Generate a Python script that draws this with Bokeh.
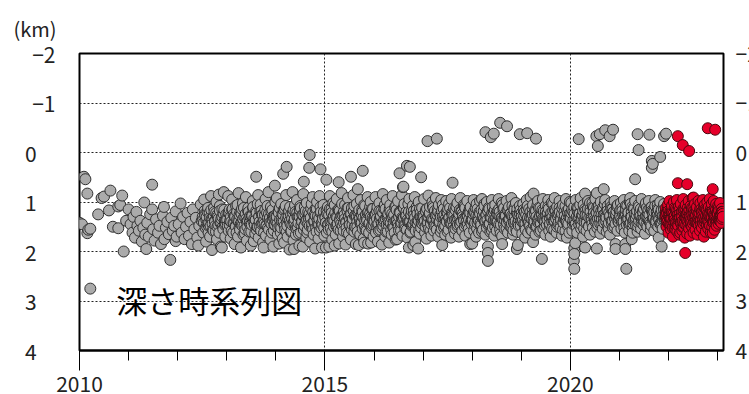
from bokeh.plotting import figure
from bokeh.layouts import column
from bokeh.models import Range1d, FixedTicker, Label, LinearAxis
from bokeh.embed import file_html
from bokeh.resources import INLINE

# Hypocentre depth (km) against time (decimal year); each list holds
# (offset within the year, depth) pairs.
ev_2010 = [(0.00, 1.42), (0.05, 1.45), (0.09, 0.49), (0.12, 0.54), (0.16, 0.83), (0.16, 1.63),
           (0.18, 1.56), (0.22, 1.54), (0.22, 2.75), (0.38, 1.25), (0.45, 0.92), (0.50, 0.89),
           (0.60, 1.17), (0.63, 0.77), (0.68, 1.50), (0.79, 1.09), (0.79, 1.53), (0.83, 1.06),
           (0.87, 0.87), (0.90, 2.00), (0.95, 1.38)]
ev_2011 = [(0.00, 1.15), (0.04, 1.45), (0.08, 1.62), (0.10, 1.30), (0.13, 1.72), (0.16, 1.20),
           (0.18, 1.48), (0.21, 1.58), (0.24, 1.38), (0.27, 1.80), (0.30, 1.52), (0.32, 1.01),
           (0.34, 1.66), (0.36, 1.95), (0.38, 1.42), (0.41, 1.70), (0.44, 1.25), (0.48, 1.15),
           (0.48, 0.65), (0.50, 1.55), (0.53, 1.78), (0.56, 1.35), (0.60, 1.62), (0.63, 1.48),
           (0.66, 1.85), (0.70, 1.28), (0.72, 1.10), (0.73, 1.75), (0.76, 1.52), (0.79, 1.40),
           (0.82, 1.65), (0.85, 2.17), (0.87, 1.32), (0.90, 1.58), (0.93, 1.48), (0.96, 1.19),
           (0.96, 1.79), (0.98, 1.70)]
ev_2012 = [(0.02, 1.45), (0.06, 1.03), (0.08, 1.62), (0.11, 1.30), (0.14, 1.75), (0.17, 1.50),
           (0.20, 1.22), (0.23, 1.68), (0.26, 1.40), (0.29, 1.85), (0.31, 1.15), (0.34, 1.55),
           (0.37, 1.32), (0.40, 1.72), (0.42, 1.88), (0.44, 1.48), (0.47, 1.05), (0.49, 1.38),
           (0.52, 1.62), (0.54, 0.95), (0.56, 1.28), (0.58, 1.80), (0.60, 1.50), (0.62, 1.12),
           (0.64, 1.42), (0.66, 1.70), (0.68, 0.88), (0.70, 1.97), (0.71, 1.35), (0.73, 1.58),
           (0.75, 1.20), (0.77, 1.48), (0.79, 1.00), (0.80, 1.75), (0.82, 1.30), (0.84, 0.85),
           (0.85, 1.62), (0.87, 1.42), (0.88, 1.90), (0.90, 1.92), (0.91, 1.15), (0.93, 1.55),
           (0.94, 0.80), (0.96, 1.38), (0.97, 1.70), (0.99, 1.25),
           (0.52, 1.36), (0.55, 1.18), (0.57, 1.52), (0.59, 1.30), (0.61, 1.44), (0.63, 1.62),
           (0.65, 1.22), (0.67, 1.48), (0.69, 1.34), (0.72, 1.56), (0.74, 1.12), (0.76, 1.40),
           (0.78, 1.60), (0.81, 1.26), (0.83, 1.46), (0.86, 1.08), (0.89, 1.34), (0.92, 1.50),
           (0.95, 1.16), (0.98, 1.44),
           (0.51, 1.30), (0.535, 1.42), (0.56, 1.24), (0.585, 1.36), (0.61, 1.20), (0.635, 1.48),
           (0.66, 1.32), (0.685, 1.16), (0.71, 1.44), (0.735, 1.28), (0.76, 1.38), (0.785, 1.22),
           (0.81, 1.50), (0.835, 1.34), (0.86, 1.18), (0.885, 1.42), (0.91, 1.30), (0.935, 1.24),
           (0.96, 1.46), (0.985, 1.36)]
ev_2013 = [(0.01, 1.32), (0.03, 0.88), (0.04, 1.58), (0.06, 1.15), (0.08, 1.74), (0.09, 1.40),
           (0.11, 0.95), (0.13, 1.62), (0.14, 1.25), (0.16, 1.85), (0.18, 1.48), (0.19, 1.08),
           (0.21, 1.36), (0.23, 1.70), (0.24, 0.82), (0.26, 1.52), (0.28, 1.20), (0.29, 1.92),
           (0.31, 1.44), (0.33, 1.02), (0.34, 1.66), (0.36, 1.30), (0.38, 1.55), (0.39, 0.90),
           (0.41, 1.78), (0.43, 1.38), (0.44, 1.12), (0.46, 1.60), (0.48, 1.28), (0.49, 1.88),
           (0.51, 1.46), (0.53, 0.98), (0.55, 1.79), (0.56, 1.34), (0.58, 1.64), (0.60, 0.49),
           (0.60, 1.18), (0.62, 1.50), (0.64, 0.86), (0.65, 1.72), (0.67, 1.40), (0.69, 1.05),
           (0.70, 1.58), (0.72, 1.26), (0.74, 1.82), (0.75, 1.92), (0.77, 1.44), (0.79, 0.94),
           (0.80, 1.68), (0.82, 1.22), (0.84, 1.52), (0.85, 0.80), (0.87, 1.36), (0.89, 1.76),
           (0.90, 1.10), (0.92, 1.62), (0.94, 1.30), (0.95, 1.90), (0.97, 1.46), (0.98, 0.67),
           (0.99, 1.00),
           (0.02, 1.48), (0.05, 1.22), (0.07, 1.38), (0.10, 1.58), (0.12, 1.14), (0.15, 1.44),
           (0.17, 1.30), (0.20, 1.62), (0.22, 1.06), (0.25, 1.40), (0.27, 1.56), (0.30, 1.24),
           (0.32, 1.48), (0.35, 1.12), (0.37, 1.64), (0.40, 1.34), (0.42, 1.50), (0.45, 1.20),
           (0.47, 1.42), (0.50, 1.60), (0.52, 1.28), (0.54, 1.10), (0.57, 1.46), (0.59, 1.36),
           (0.61, 1.56), (0.63, 1.04), (0.66, 1.30), (0.68, 1.50), (0.71, 1.18), (0.73, 1.42),
           (0.76, 1.62), (0.78, 1.26), (0.81, 1.46), (0.83, 1.08), (0.86, 1.56), (0.88, 1.32),
           (0.91, 1.44), (0.93, 1.16), (0.96, 1.58), (0.98, 1.28)]
ev_2014 = [(0.01, 1.40), (0.02, 0.92), (0.04, 1.66), (0.06, 1.22), (0.07, 1.84), (0.09, 1.50),
           (0.11, 1.04), (0.12, 1.35), (0.14, 1.74), (0.15, 0.43), (0.16, 1.16), (0.17, 1.82),
           (0.19, 1.56), (0.21, 0.86), (0.22, 0.29), (0.23, 1.42), (0.24, 1.70), (0.26, 1.28),
           (0.28, 1.96), (0.29, 1.10), (0.31, 1.60), (0.33, 1.34), (0.34, 0.80), (0.36, 1.78),
           (0.37, 1.95), (0.38, 1.46), (0.40, 1.20), (0.41, 1.66), (0.43, 0.96), (0.45, 1.52),
           (0.46, 1.30), (0.48, 1.88), (0.50, 1.08), (0.51, 1.62), (0.53, 1.38), (0.55, 1.90),
           (0.56, 0.84), (0.57, 0.59), (0.58, 1.48), (0.60, 1.24), (0.62, 1.72), (0.63, 1.02),
           (0.65, 1.56), (0.67, 1.32), (0.68, 0.31), (0.69, 0.05), (0.70, 1.80), (0.72, 1.14),
           (0.74, 1.44), (0.75, 0.90), (0.77, 1.66), (0.79, 1.26), (0.80, 1.94), (0.82, 1.52),
           (0.84, 1.00), (0.85, 1.36), (0.87, 1.74), (0.89, 0.88), (0.90, 1.58), (0.91, 0.34),
           (0.92, 1.20), (0.94, 1.92), (0.95, 1.46), (0.97, 1.06), (0.99, 1.68),
           (0.02, 1.30), (0.05, 1.52), (0.08, 1.12), (0.10, 1.62), (0.13, 1.40), (0.15, 1.26),
           (0.18, 1.48), (0.20, 1.08), (0.22, 1.60), (0.25, 1.34), (0.27, 1.18), (0.30, 1.44),
           (0.32, 1.58), (0.35, 1.22), (0.37, 1.40), (0.39, 1.06), (0.42, 1.54), (0.44, 1.30),
           (0.47, 1.64), (0.49, 1.16), (0.52, 1.46), (0.54, 1.26), (0.57, 1.56), (0.59, 1.10),
           (0.61, 1.38), (0.64, 1.62), (0.66, 1.20), (0.69, 1.48), (0.71, 1.32), (0.73, 1.04),
           (0.76, 1.56), (0.78, 1.40), (0.81, 1.14), (0.83, 1.60), (0.86, 1.28), (0.88, 1.46),
           (0.91, 1.10), (0.93, 1.52), (0.96, 1.34), (0.98, 1.20)]
ev_2015 = [(0.01, 1.30), (0.02, 1.92), (0.03, 0.55), (0.04, 1.62), (0.06, 1.10), (0.07, 1.45),
           (0.09, 1.90), (0.10, 0.88), (0.12, 1.54), (0.14, 1.22), (0.15, 1.76), (0.17, 1.02),
           (0.19, 1.38), (0.20, 1.88), (0.22, 1.66), (0.24, 0.94), (0.25, 1.48), (0.27, 1.16),
           (0.28, 0.60), (0.29, 1.84), (0.31, 1.34), (0.32, 1.58), (0.34, 0.82), (0.36, 1.26),
           (0.37, 1.70), (0.39, 1.42), (0.41, 1.06), (0.42, 1.86), (0.44, 1.52), (0.46, 1.18),
           (0.47, 0.92), (0.49, 1.64), (0.51, 1.36), (0.53, 0.49), (0.53, 1.76), (0.55, 1.12),
           (0.56, 1.46), (0.58, 0.86), (0.60, 1.60), (0.61, 1.28), (0.63, 1.85), (0.65, 1.04),
           (0.66, 1.50), (0.67, 0.74), (0.69, 1.87), (0.70, 1.32), (0.72, 1.66), (0.73, 0.96),
           (0.75, 1.42), (0.77, 0.37), (0.77, 1.20), (0.79, 1.74), (0.80, 1.82), (0.82, 1.08),
           (0.83, 1.56), (0.85, 1.34), (0.87, 0.90), (0.88, 1.84), (0.90, 1.62), (0.92, 1.24),
           (0.93, 1.00), (0.94, 1.82), (0.96, 1.48), (0.98, 1.14), (0.99, 1.70),
           (0.02, 1.42), (0.05, 1.24), (0.08, 1.56), (0.10, 1.14), (0.13, 1.38), (0.15, 1.60),
           (0.18, 1.28), (0.20, 1.06), (0.23, 1.48), (0.25, 1.32), (0.28, 1.56), (0.30, 1.18),
           (0.33, 1.44), (0.35, 1.04), (0.38, 1.58), (0.40, 1.26), (0.43, 1.40), (0.45, 1.62),
           (0.48, 1.12), (0.50, 1.46), (0.52, 1.24), (0.55, 1.56), (0.57, 1.34), (0.60, 1.08),
           (0.62, 1.50), (0.65, 1.30), (0.67, 1.60), (0.70, 1.16), (0.72, 1.42), (0.75, 1.26),
           (0.77, 1.54), (0.80, 1.06), (0.82, 1.38), (0.85, 1.58), (0.87, 1.22), (0.90, 1.44),
           (0.92, 1.10), (0.95, 1.52), (0.97, 1.32), (0.99, 1.46)]
ev_2016 = [(0.01, 1.36), (0.03, 0.90), (0.04, 1.62), (0.06, 1.18), (0.08, 1.80), (0.09, 1.44),
           (0.11, 1.02), (0.13, 1.56), (0.14, 1.28), (0.16, 1.86), (0.18, 0.84), (0.19, 1.48),
           (0.21, 1.14), (0.23, 1.70), (0.24, 1.34), (0.26, 0.96), (0.28, 1.60), (0.29, 1.24),
           (0.31, 1.82), (0.33, 1.06), (0.34, 1.42), (0.36, 1.66), (0.38, 0.88), (0.39, 1.30),
           (0.41, 1.52), (0.43, 1.10), (0.44, 1.76), (0.46, 1.38), (0.47, 1.75), (0.49, 0.98),
           (0.51, 1.58), (0.52, 0.42), (0.53, 1.22), (0.55, 1.46), (0.57, 0.86), (0.58, 1.68),
           (0.59, 0.70), (0.60, 0.69), (0.61, 1.32), (0.62, 1.04), (0.64, 1.54), (0.66, 1.20),
           (0.67, 0.27), (0.68, 1.72), (0.70, 1.40), (0.71, 1.92), (0.72, 0.94), (0.73, 0.29),
           (0.74, 1.62), (0.76, 1.26), (0.77, 1.48), (0.79, 1.08), (0.80, 1.87), (0.81, 1.36),
           (0.83, 0.90), (0.84, 1.81), (0.85, 1.58), (0.87, 1.16), (0.89, 1.44), (0.90, 1.94),
           (0.91, 1.00), (0.93, 1.64), (0.94, 1.30), (0.96, 0.50), (0.96, 1.52), (0.98, 1.12),
           (0.02, 1.26), (0.05, 1.48), (0.07, 1.10), (0.10, 1.58), (0.12, 1.34), (0.15, 1.18),
           (0.17, 1.52), (0.20, 1.40), (0.22, 1.06), (0.25, 1.60), (0.27, 1.30), (0.30, 1.46),
           (0.32, 1.14), (0.35, 1.56), (0.37, 1.24), (0.40, 1.42), (0.42, 1.62), (0.45, 1.08),
           (0.47, 1.36), (0.50, 1.50), (0.52, 1.20), (0.55, 1.58), (0.57, 1.32), (0.60, 1.12),
           (0.62, 1.46), (0.65, 1.28), (0.67, 1.56), (0.70, 1.04), (0.72, 1.40), (0.75, 1.60),
           (0.77, 1.18), (0.80, 1.44), (0.82, 1.26), (0.85, 1.52), (0.87, 1.10), (0.90, 1.36),
           (0.92, 1.58), (0.95, 1.22), (0.97, 1.42), (0.99, 1.30)]
ev_2017 = [(0.01, 1.40), (0.02, 0.94), (0.04, 1.62), (0.06, 1.20), (0.07, 1.74), (0.09, -0.23),
           (0.09, 1.32), (0.11, 0.87), (0.12, 1.54), (0.14, 1.10), (0.16, 1.44), (0.17, 1.68),
           (0.19, 1.00), (0.21, 1.36), (0.22, 1.58), (0.24, 1.18), (0.26, 0.92), (0.27, 1.48),
           (0.28, -0.28), (0.29, 1.26), (0.31, 1.70), (0.32, 1.06), (0.34, 1.40), (0.36, 1.60),
           (0.37, 0.96), (0.39, 1.87), (0.40, 1.30), (0.42, 1.14), (0.43, 1.52), (0.45, 1.66),
           (0.47, 0.98), (0.48, 1.38), (0.50, 1.22), (0.52, 1.56), (0.53, 1.04), (0.55, 1.42),
           (0.57, 1.72), (0.58, 0.94), (0.60, 0.61), (0.60, 1.28), (0.62, 1.50), (0.63, 1.12),
           (0.65, 1.64), (0.66, 1.54), (0.68, 1.34), (0.70, 1.02), (0.71, 1.46), (0.73, 1.70),
           (0.75, 1.16), (0.76, 0.92), (0.78, 1.40), (0.80, 1.58), (0.81, 1.24), (0.83, 1.06),
           (0.85, 1.50), (0.86, 1.68), (0.88, 1.30), (0.90, 0.98), (0.91, 1.44), (0.93, 1.20),
           (0.95, 1.62), (0.96, 1.85), (0.97, 1.10), (0.99, 1.36),
           (0.02, 1.30), (0.05, 1.50), (0.08, 1.14), (0.10, 1.42), (0.13, 1.24), (0.15, 1.58),
           (0.18, 1.36), (0.20, 1.08), (0.23, 1.46), (0.25, 1.28), (0.28, 1.56), (0.30, 1.16),
           (0.33, 1.40), (0.35, 1.26), (0.38, 1.54), (0.40, 1.06), (0.43, 1.34), (0.45, 1.48),
           (0.48, 1.20), (0.50, 1.60), (0.53, 1.32), (0.55, 1.12), (0.58, 1.44), (0.60, 1.24),
           (0.63, 1.56), (0.65, 1.36), (0.68, 1.10), (0.70, 1.50), (0.73, 1.28), (0.75, 1.44),
           (0.78, 1.18), (0.80, 1.58), (0.83, 1.34), (0.85, 1.08), (0.88, 1.46), (0.90, 1.26),
           (0.93, 1.54), (0.95, 1.14), (0.98, 1.40)]
ev_2018 = [(0.00, 1.84), (0.01, 1.36), (0.03, 0.96), (0.04, 1.58), (0.06, 1.22), (0.08, 1.70),
           (0.09, 1.04), (0.11, 1.42), (0.13, 1.28), (0.14, 1.62), (0.16, 0.98), (0.18, 1.48),
           (0.19, 1.16), (0.20, 0.94), (0.22, 1.56), (0.24, 1.34), (0.25, 1.08), (0.27, -0.41),
           (0.27, 1.66), (0.29, 1.26), (0.30, 1.00), (0.32, 1.90), (0.32, 2.03), (0.32, 2.19),
           (0.33, 1.46), (0.35, 1.14), (0.37, 1.60), (0.38, -0.31), (0.39, 1.32), (0.40, 0.96),
           (0.42, 1.52), (0.44, -0.38), (0.44, 1.20), (0.45, 1.68), (0.47, 1.06), (0.49, 1.40),
           (0.50, 1.58), (0.52, 1.18), (0.54, 0.94), (0.55, 1.46), (0.57, -0.60), (0.57, 1.30),
           (0.58, 1.64), (0.60, 1.02), (0.61, 1.69), (0.61, 1.85), (0.63, 1.36), (0.65, 1.12),
           (0.66, 1.54), (0.68, 1.24), (0.70, 0.98), (0.71, -0.53), (0.71, 1.42), (0.73, 1.62),
           (0.75, 1.10), (0.76, 1.34), (0.78, 1.50), (0.80, 0.92), (0.81, 1.28), (0.83, 1.66),
           (0.84, 1.57), (0.86, 1.16), (0.88, 1.44), (0.89, 1.02), (0.91, 1.95), (0.91, 1.60),
           (0.93, 1.87), (0.93, 1.26), (0.95, 1.48), (0.97, -0.37), (0.97, 1.08), (0.99, 1.38),
           (0.02, 1.24), (0.05, 1.46), (0.07, 1.12), (0.10, 1.54), (0.12, 1.34), (0.15, 1.20),
           (0.17, 1.42), (0.20, 1.60), (0.22, 1.28), (0.25, 1.04), (0.27, 1.38), (0.30, 1.52),
           (0.32, 1.18), (0.35, 1.44), (0.37, 1.30), (0.40, 1.58), (0.42, 1.10), (0.45, 1.36),
           (0.47, 1.50), (0.50, 1.22), (0.52, 1.40), (0.55, 1.14), (0.57, 1.56), (0.60, 1.32),
           (0.62, 1.06), (0.65, 1.46), (0.67, 1.28), (0.70, 1.54), (0.72, 1.16), (0.75, 1.38),
           (0.77, 1.24), (0.80, 1.50), (0.82, 1.08), (0.85, 1.42), (0.87, 1.30), (0.90, 1.56),
           (0.92, 1.14), (0.95, 1.36), (0.97, 1.22), (0.99, 1.48)]
ev_2019 = [(0.01, 1.30), (0.02, 1.64), (0.04, 1.04), (0.06, 1.44), (0.07, 1.20), (0.08, 1.72),
           (0.09, 1.56), (0.11, 0.96), (0.12, -0.39), (0.13, 1.36), (0.14, 1.62), (0.16, 1.14),
           (0.18, 1.48), (0.19, 0.90), (0.21, 1.28), (0.22, 1.58), (0.24, 1.81), (0.24, 1.06),
           (0.25, 0.83), (0.27, 1.40), (0.29, 1.66), (0.30, -0.28), (0.30, 1.18), (0.32, 1.50),
           (0.34, 0.98), (0.35, 1.34), (0.37, 1.60), (0.39, 1.12), (0.40, 1.44), (0.42, 2.15),
           (0.42, 1.26), (0.44, 0.94), (0.45, 1.54), (0.47, 1.38), (0.49, 1.66), (0.50, 1.08),
           (0.52, 1.46), (0.54, 1.22), (0.55, 0.96), (0.57, 1.58), (0.58, 1.32), (0.60, 1.70),
           (0.62, 1.02), (0.63, 1.40), (0.65, 1.18), (0.67, 1.56), (0.68, 0.92), (0.70, 1.30),
           (0.72, 1.62), (0.73, 1.10), (0.75, 1.46), (0.76, 1.24), (0.78, 0.98), (0.80, 1.52),
           (0.81, 1.36), (0.83, 1.68), (0.85, 1.06), (0.86, 1.42), (0.88, 1.20), (0.90, 1.58),
           (0.91, 0.94), (0.93, 1.72), (0.93, 1.32), (0.95, 1.48), (0.97, 1.14), (0.98, 1.62),
           (0.99, 1.00),
           (0.02, 1.40), (0.05, 1.16), (0.08, 1.52), (0.10, 1.26), (0.13, 1.08), (0.15, 1.44),
           (0.18, 1.32), (0.20, 1.56), (0.23, 1.14), (0.25, 1.38), (0.28, 1.24), (0.30, 1.50),
           (0.33, 1.06), (0.35, 1.42), (0.38, 1.28), (0.40, 1.58), (0.43, 1.16), (0.45, 1.36),
           (0.48, 1.48), (0.50, 1.20), (0.53, 1.34), (0.55, 1.10), (0.58, 1.46), (0.60, 1.26),
           (0.63, 1.54), (0.65, 1.04), (0.68, 1.38), (0.70, 1.18), (0.73, 1.50), (0.75, 1.30),
           (0.78, 1.12), (0.80, 1.44), (0.83, 1.24), (0.85, 1.56), (0.88, 1.34), (0.90, 1.08),
           (0.93, 1.42), (0.95, 1.22), (0.98, 1.30)]
ev_2020 = [(0.01, 1.34), (0.02, 1.02), (0.04, 1.58), (0.06, 1.20), (0.07, 2.19), (0.08, 2.05),
           (0.08, 2.35), (0.08, 1.93), (0.09, 1.44), (0.10, 1.83), (0.11, 0.96), (0.13, 1.30),
           (0.14, 1.62), (0.16, 1.12), (0.17, -0.27), (0.18, 1.46), (0.19, 1.24), (0.21, 0.92),
           (0.22, 1.54), (0.24, 1.36), (0.26, 1.70), (0.27, 1.06), (0.29, 1.40), (0.30, 0.83),
           (0.30, 1.92), (0.31, 1.18), (0.33, 1.58), (0.35, 1.28), (0.36, 0.98), (0.38, 1.48),
           (0.40, 1.66), (0.41, 1.14), (0.43, 1.34), (0.45, 1.02), (0.46, 1.52), (0.48, 1.22),
           (0.50, 1.60), (0.51, 0.94), (0.53, -0.33), (0.53, 1.38), (0.54, 0.82), (0.54, 1.94),
           (0.55, 1.10), (0.56, -0.13), (0.57, 1.46), (0.59, 1.26), (0.60, -0.37), (0.61, 1.64),
           (0.62, 1.00), (0.64, 1.36), (0.66, 1.54), (0.67, 1.16), (0.68, 0.74), (0.69, 1.42),
           (0.71, -0.45), (0.71, 0.96), (0.72, 1.30), (0.74, 1.60), (0.76, 1.08), (0.77, 1.48),
           (0.79, 1.22), (0.80, -0.33), (0.81, 1.66), (0.82, 1.02), (0.84, 1.38), (0.86, 1.14),
           (0.87, -0.46), (0.87, 1.52), (0.89, 1.28), (0.90, 0.98), (0.92, 1.85), (0.92, 1.95),
           (0.92, 1.44), (0.94, 1.18), (0.96, 1.58), (0.97, 1.06), (0.99, 1.34),
           (0.02, 1.22), (0.05, 1.44), (0.08, 1.10), (0.10, 1.36), (0.13, 1.52), (0.15, 1.18),
           (0.18, 1.32), (0.20, 1.06), (0.23, 1.46), (0.25, 1.26), (0.28, 1.54), (0.30, 1.14),
           (0.33, 1.38), (0.35, 1.20), (0.38, 1.50), (0.40, 1.02), (0.43, 1.30), (0.45, 1.44),
           (0.48, 1.12), (0.50, 1.36), (0.53, 1.22), (0.55, 1.52), (0.58, 1.08), (0.60, 1.34),
           (0.63, 1.18), (0.65, 1.46), (0.68, 1.26), (0.70, 1.04), (0.73, 1.40), (0.75, 1.16),
           (0.78, 1.54), (0.80, 1.30), (0.83, 1.10), (0.85, 1.44), (0.88, 1.20), (0.90, 1.50),
           (0.93, 1.28), (0.95, 1.08), (0.98, 1.40)]
ev_2021 = [(0.01, 1.30), (0.03, 1.02), (0.04, 1.54), (0.06, 1.18), (0.08, 1.40), (0.09, 0.96),
           (0.11, 1.62), (0.12, 1.85), (0.12, 1.95), (0.13, 1.24), (0.14, 2.35), (0.15, 1.46),
           (0.16, 1.08), (0.18, 1.34), (0.20, 1.58), (0.21, 1.00), (0.22, 0.92), (0.23, 1.42),
           (0.25, 1.75), (0.25, 1.20), (0.27, 1.62), (0.27, 1.52), (0.29, 1.12), (0.30, 1.36),
           (0.32, 0.54), (0.32, 0.98), (0.34, 1.48), (0.35, 1.26), (0.37, -0.37), (0.37, 1.60),
           (0.39, -0.05), (0.39, 1.06), (0.40, 1.38), (0.42, 1.20), (0.44, 1.54), (0.45, 0.94),
           (0.47, 1.32), (0.49, 1.46), (0.50, 1.14), (0.52, 1.64), (0.54, 1.02), (0.55, 1.28),
           (0.57, 1.50), (0.59, 1.16), (0.60, 0.98), (0.61, -0.36), (0.62, 1.40), (0.64, 1.56),
           (0.66, 0.17), (0.66, 0.31), (0.66, 1.10), (0.68, 0.23), (0.68, 1.34), (0.69, 1.24),
           (0.71, 1.58), (0.73, 0.96), (0.74, 1.44), (0.76, 1.20), (0.78, 1.06), (0.79, 1.50),
           (0.80, 1.72), (0.81, 1.30), (0.83, 0.09), (0.83, 1.00), (0.84, 1.42), (0.86, 1.90),
           (0.86, 1.16), (0.88, 1.54), (0.89, 1.28), (0.91, -0.33), (0.91, 1.04), (0.93, 1.38),
           (0.94, 1.20), (0.95, -0.38), (0.96, 1.48), (0.98, 1.12),
           (0.02, 1.16), (0.05, 1.40), (0.08, 1.26), (0.10, 1.52), (0.13, 1.08), (0.15, 1.34),
           (0.18, 1.20), (0.20, 1.46), (0.23, 1.04), (0.25, 1.30), (0.28, 1.44), (0.30, 1.14),
           (0.33, 1.36), (0.35, 1.22), (0.38, 1.50), (0.40, 1.10), (0.43, 1.28), (0.45, 1.42),
           (0.48, 1.18), (0.50, 1.34), (0.53, 1.06), (0.55, 1.46), (0.58, 1.24), (0.60, 1.38),
           (0.63, 1.12), (0.65, 1.48), (0.68, 1.20), (0.70, 1.32), (0.73, 1.08), (0.75, 1.40),
           (0.78, 1.26), (0.80, 1.16), (0.83, 1.44), (0.85, 1.22), (0.88, 1.36), (0.90, 1.10),
           (0.92, 1.30)]

# Tightly packed core of the swarm, 2013-2021: offsets within the year, then
# one depth list per year.
core_offsets = [0.01, 0.035, 0.06, 0.085, 0.11, 0.135, 0.16, 0.185, 0.21, 0.235,
                0.26, 0.285, 0.31, 0.335, 0.36, 0.385, 0.41, 0.435, 0.46, 0.485,
                0.51, 0.535, 0.56, 0.585, 0.61, 0.635, 0.66, 0.685, 0.71, 0.735,
                0.76, 0.785, 0.81, 0.835, 0.86, 0.885, 0.91, 0.935, 0.96, 0.985]
core_2013 = [1.36, 1.22, 1.46, 1.30, 1.16, 1.42, 1.28, 1.50, 1.20, 1.38, 1.26, 1.44, 1.14, 1.34,
             1.48, 1.24, 1.40, 1.18, 1.32, 1.46, 1.28, 1.12, 1.42, 1.36, 1.22, 1.50, 1.30, 1.18,
             1.44, 1.26, 1.38, 1.16, 1.48, 1.32, 1.24, 1.42, 1.20, 1.36, 1.30, 1.46]
core_2014 = [1.28, 1.44, 1.18, 1.36, 1.52, 1.24, 1.40, 1.14, 1.32, 1.48, 1.20, 1.38, 1.26, 1.46,
             1.16, 1.34, 1.50, 1.22, 1.42, 1.30, 1.12, 1.40, 1.26, 1.48, 1.18, 1.36, 1.44, 1.24,
             1.32, 1.50, 1.20, 1.38, 1.28, 1.14, 1.46, 1.34, 1.22, 1.42, 1.30, 1.52]
core_2015 = [1.32, 1.18, 1.46, 1.26, 1.40, 1.14, 1.36, 1.50, 1.22, 1.30, 1.44, 1.16, 1.38, 1.28,
             1.48, 1.20, 1.34, 1.42, 1.12, 1.30, 1.46, 1.24, 1.36, 1.18, 1.50, 1.28, 1.40, 1.22,
             1.34, 1.44, 1.16, 1.32, 1.48, 1.26, 1.38, 1.20, 1.42, 1.30, 1.14, 1.36]
core_2016 = [1.40, 1.24, 1.34, 1.48, 1.18, 1.30, 1.44, 1.22, 1.36, 1.14, 1.46, 1.28, 1.40, 1.20,
             1.32, 1.50, 1.26, 1.38, 1.16, 1.44, 1.30, 1.22, 1.42, 1.34, 1.12, 1.48, 1.28, 1.36,
             1.20, 1.40, 1.26, 1.46, 1.18, 1.32, 1.42, 1.24, 1.38, 1.14, 1.30, 1.44]
core_2017 = [1.26, 1.38, 1.16, 1.44, 1.30, 1.22, 1.40, 1.34, 1.12, 1.48, 1.28, 1.36, 1.20, 1.42,
             1.30, 1.18, 1.46, 1.26, 1.34, 1.40, 1.14, 1.32, 1.44, 1.22, 1.38, 1.28, 1.16, 1.42,
             1.34, 1.24, 1.46, 1.20, 1.30, 1.38, 1.12, 1.40, 1.28, 1.36, 1.22, 1.44]
core_2018 = [1.34, 1.20, 1.42, 1.28, 1.14, 1.38, 1.24, 1.46, 1.32, 1.18, 1.40, 1.26, 1.36, 1.12,
             1.44, 1.30, 1.22, 1.38, 1.16, 1.34, 1.42, 1.26, 1.20, 1.46, 1.32, 1.14, 1.36, 1.28,
             1.40, 1.18, 1.34, 1.24, 1.44, 1.30, 1.12, 1.38, 1.22, 1.42, 1.28, 1.16]
core_2019 = [1.22, 1.36, 1.28, 1.44, 1.14, 1.32, 1.40, 1.20, 1.34, 1.26, 1.46, 1.16, 1.30, 1.38,
             1.12, 1.42, 1.24, 1.34, 1.18, 1.40, 1.28, 1.36, 1.14, 1.44, 1.22, 1.30, 1.38, 1.16,
             1.34, 1.26, 1.42, 1.20, 1.32, 1.12, 1.40, 1.28, 1.36, 1.18, 1.44, 1.24]
core_2020 = [1.30, 1.16, 1.38, 1.24, 1.44, 1.12, 1.34, 1.22, 1.40, 1.28, 1.18, 1.36, 1.26, 1.42,
             1.14, 1.32, 1.20, 1.38, 1.10, 1.30, 1.40, 1.22, 1.34, 1.16, 1.44, 1.26, 1.12, 1.36,
             1.24, 1.32, 1.18, 1.42, 1.28, 1.14, 1.38, 1.20, 1.34, 1.26, 1.10, 1.40]
core_2021 = [1.20, 1.34, 1.12, 1.40, 1.26, 1.16, 1.36, 1.22, 1.44, 1.30, 1.10, 1.38, 1.24, 1.32,
             1.18, 1.42, 1.28, 1.14, 1.36, 1.22, 1.40, 1.30, 1.12, 1.34, 1.26, 1.44, 1.18, 1.32,
             1.20, 1.38, 1.28, 1.14, 1.36, 1.24, 1.42, 1.30, 1.16, 1.34]

# Recent events (decimal year, depth km), highlighted in red
recent = [(2021.94, 1.30), (2021.95, 1.12), (2021.96, 1.50), (2021.97, 1.22), (2021.98, 1.40),
          (2021.99, 1.05), (2022.00, 1.62), (2022.01, 1.28), (2022.02, 0.98), (2022.03, 1.46),
          (2022.04, 1.18), (2022.05, 1.56), (2022.06, 1.34), (2022.07, 1.08), (2022.08, 1.44),
          (2022.09, 1.70), (2022.10, 1.24), (2022.11, 1.00), (2022.12, 1.52), (2022.13, 1.36),
          (2022.14, 1.55), (2022.15, 1.14), (2022.16, 1.42), (2022.17, 0.96), (2022.18, 1.60),
          (2022.19, -0.33), (2022.19, 0.62), (2022.19, 1.26), (2022.20, 1.48), (2022.21, 1.10),
          (2022.22, 1.66), (2022.23, 1.32), (2022.24, 1.62), (2022.25, 1.04), (2022.26, 1.44),
          (2022.27, 1.20), (2022.28, 1.58), (2022.29, -0.15), (2022.29, 1.38), (2022.30, 0.94),
          (2022.31, 1.50), (2022.32, 1.16), (2022.33, 1.72), (2022.34, 2.03), (2022.34, 1.30),
          (2022.35, 1.06), (2022.36, 1.46), (2022.37, 1.24), (2022.38, 0.64), (2022.38, 1.64),
          (2022.39, 1.12), (2022.40, 1.40), (2022.41, 0.98), (2022.42, -0.03), (2022.42, 1.54),
          (2022.43, 1.28), (2022.44, 1.68), (2022.45, 1.08), (2022.46, 1.36), (2022.47, 1.20),
          (2022.48, 1.50), (2022.49, 0.92), (2022.50, 1.44), (2022.51, 0.91), (2022.51, 1.62),
          (2022.52, 1.18), (2022.53, 1.32), (2022.54, 1.04), (2022.55, 1.56), (2022.56, 1.26),
          (2022.57, 1.42), (2022.58, 1.10), (2022.59, 1.66), (2022.60, 1.34), (2022.61, 0.98),
          (2022.62, 1.48), (2022.63, 1.22), (2022.64, 1.58), (2022.65, 1.02), (2022.66, 1.38),
          (2022.67, 1.14), (2022.68, 1.52), (2022.69, 1.28), (2022.70, 0.96), (2022.71, 1.44),
          (2022.72, 1.70), (2022.73, 1.20), (2022.74, 1.06), (2022.75, 1.36), (2022.76, 1.60),
          (2022.77, 1.16), (2022.78, 1.46), (2022.79, 1.00), (2022.80, -0.49), (2022.80, 1.30),
          (2022.81, 1.54), (2022.82, 1.10), (2022.83, 1.40), (2022.84, 0.94), (2022.85, 1.24),
          (2022.86, 1.62), (2022.87, 1.34), (2022.88, 1.04), (2022.89, 1.50), (2022.90, 0.74),
          (2022.90, 1.63), (2022.90, 1.18), (2022.91, 1.42), (2022.92, 0.98), (2022.93, 1.28),
          (2022.94, 1.56), (2022.95, -0.46), (2022.95, 1.12), (2022.96, 1.38), (2022.97, 1.04),
          (2022.98, 1.48), (2022.99, 1.22), (2023.00, 1.32), (2023.01, 1.08), (2023.02, 1.44),
          (2023.03, 1.18), (2023.04, 1.30), (2023.05, 1.02), (2023.06, 1.40), (2023.07, 1.24),
          (2023.08, 1.14), (2023.09, 1.34), (2023.10, 1.20),
          (2021.945, 1.20), (2021.965, 1.36), (2021.985, 1.14), (2022.005, 1.44), (2022.025, 1.24),
          (2022.045, 1.34), (2022.065, 1.18), (2022.085, 1.52), (2022.105, 1.30), (2022.125, 1.12),
          (2022.145, 1.40), (2022.165, 1.22), (2022.185, 1.46), (2022.205, 1.32), (2022.225, 1.16),
          (2022.245, 1.40), (2022.265, 1.28), (2022.285, 1.50), (2022.305, 1.20), (2022.325, 1.38),
          (2022.345, 1.14), (2022.365, 1.34), (2022.385, 1.24), (2022.405, 1.48), (2022.425, 1.16),
          (2022.445, 1.30), (2022.465, 1.42), (2022.485, 1.26), (2022.505, 1.12), (2022.525, 1.40),
          (2022.545, 1.28), (2022.565, 1.16), (2022.585, 1.44), (2022.605, 1.24), (2022.625, 1.36),
          (2022.645, 1.14), (2022.665, 1.46), (2022.685, 1.22), (2022.705, 1.34), (2022.725, 1.10),
          (2022.745, 1.42), (2022.765, 1.28), (2022.785, 1.18), (2022.805, 1.40), (2022.825, 1.26),
          (2022.845, 1.48), (2022.865, 1.14), (2022.885, 1.32), (2022.905, 1.22), (2022.925, 1.40),
          (2022.945, 1.30), (2022.965, 1.16), (2022.985, 1.36), (2023.005, 1.24), (2023.025, 1.12),
          (2023.045, 1.38), (2023.065, 1.28), (2023.085, 1.20), (2023.105, 1.30),
          (2021.952, 1.26), (2021.977, 1.40), (2022.002, 1.18), (2022.027, 1.34), (2022.052, 1.46),
          (2022.077, 1.22), (2022.102, 1.38), (2022.127, 1.28), (2022.152, 1.48), (2022.177, 1.16),
          (2022.202, 1.36), (2022.227, 1.24), (2022.252, 1.42), (2022.277, 1.30), (2022.302, 1.14),
          (2022.327, 1.44), (2022.352, 1.26), (2022.377, 1.38), (2022.402, 1.20), (2022.427, 1.34),
          (2022.452, 1.46), (2022.477, 1.12), (2022.502, 1.32), (2022.527, 1.24), (2022.552, 1.40),
          (2022.577, 1.18), (2022.602, 1.44), (2022.627, 1.28), (2022.652, 1.36), (2022.677, 1.20),
          (2022.702, 1.42), (2022.727, 1.30), (2022.752, 1.14), (2022.777, 1.38), (2022.802, 1.24),
          (2022.827, 1.46), (2022.852, 1.32), (2022.877, 1.18), (2022.902, 1.40), (2022.927, 1.26),
          (2022.952, 1.34), (2022.977, 1.44), (2023.002, 1.20), (2023.027, 1.36), (2023.052, 1.28),
          (2023.077, 1.42), (2023.102, 1.24)]

depth_ticks = [-2, -1, 0, 1, 2, 3, 4]
depth_labels = ["\u22122", "\u22121", "0", "1", "2", "3", "4"]
year_ticks = [2010, 2015, 2020]
chart_label = "深さ時系列図"
unit_label = "(km)"

by_year = [(2010, ev_2010), (2011, ev_2011), (2012, ev_2012), (2013, ev_2013),
           (2014, ev_2014), (2015, ev_2015), (2016, ev_2016), (2017, ev_2017),
           (2018, ev_2018), (2019, ev_2019), (2020, ev_2020), (2021, ev_2021)]
core_by_year = [(2013, core_2013), (2014, core_2014), (2015, core_2015), (2016, core_2016),
                (2017, core_2017), (2018, core_2018), (2019, core_2019), (2020, core_2020),
                (2021, core_2021)]
gray = [(yr + off, d) for yr, evs in by_year for off, d in evs]
gray += [(yr + off, d) for yr, ds in core_by_year for off, d in zip(core_offsets, ds)]
gray.sort()
gray_t = [t for t, _ in gray]
gray_d = [d for _, d in gray]
red = sorted(recent)
red_t = [t for t, _ in red]
red_d = [d for _, d in red]

FONT = "Noto Sans CJK JP"
TXT = "#222222"

# The chart is 761 px wide; the page window shows its first 749 px.
p = figure(width=761, height=394, output_backend="svg", toolbar_location=None,
           sizing_mode="fixed",
           x_range=Range1d(2010, 2023.12), y_range=Range1d(4, -2),
           min_border_left=79, min_border_right=38, min_border_top=49,
           min_border_bottom=44)
p.background_fill_color = "white"
p.border_fill_color = "white"
p.outline_line_color = "black"
p.outline_line_width = 2

# unit caption above the depth labels
p.title.text = unit_label
p.title.align = "left"
p.title.offset = -66
p.title.standoff = 22
p.title.text_font = FONT
p.title.text_font_size = "20px"
p.title.text_font_style = "normal"
p.title.text_color = TXT

# bottom time axis
xa = p.xaxis[0]
xa.ticker = FixedTicker(ticks=year_ticks, minor_ticks=list(range(2010, 2024)))
xa.axis_line_color = "black"
xa.axis_line_width = 2
xa.major_tick_out = 20
xa.major_tick_in = 0
xa.minor_tick_out = 10
xa.minor_tick_in = 0
xa.major_tick_line_color = "black"
xa.minor_tick_line_color = "black"
xa.major_tick_line_width = 1
xa.minor_tick_line_width = 1
xa.major_label_standoff = 5
xa.major_label_text_font = FONT
xa.major_label_text_font_size = "21px"
xa.major_label_text_color = TXT

# left depth axis; single digits padded so the column reads left-aligned
ya = p.yaxis[0]
ya.ticker = FixedTicker(ticks=depth_ticks)
ya.major_label_overrides = {float(v): (s if len(s) > 1 else s + "\u00a0\u00a0\u00a0\u00a0")
                            for v, s in zip(depth_ticks, depth_labels)}
ya.major_label_standoff = 24

# right depth axis, same labels
ra = LinearAxis(ticker=FixedTicker(ticks=depth_ticks),
                major_label_overrides={float(v): s for v, s in zip(depth_ticks, depth_labels)},
                major_label_standoff=12)
p.add_layout(ra, "right")

for ax in (ya, ra):
    ax.axis_line_color = None
    ax.major_tick_line_color = None
    ax.minor_tick_line_color = None
    ax.major_tick_out = 0
    ax.major_tick_in = 0
    ax.minor_tick_out = 0
    ax.minor_tick_in = 0
    ax.major_label_text_font = FONT
    ax.major_label_text_font_size = "21px"
    ax.major_label_text_color = TXT

# dotted grid
p.xgrid.ticker = FixedTicker(ticks=[2015, 2020])
p.ygrid.ticker = FixedTicker(ticks=[-1, 0, 1, 2, 3])
for g in (p.xgrid[0], p.ygrid[0]):
    g.grid_line_color = "#222222"
    g.grid_line_dash = "2 2"
    g.grid_line_width = 1

p.scatter(gray_t, gray_d, size=11, fill_color="#ababab", line_color="#303030",
          line_width=1)
p.scatter(red_t, red_d, size=11, fill_color="#e6002a", line_color="#4a0a10",
          line_width=1)

p.add_layout(Label(x=2010.75, y=2.97, text=chart_label, text_align="left",
                   text_baseline="middle", text_font=FONT, text_font_size="31px",
                   text_color="black"))

page = column(p, width=749, height=394, sizing_mode="fixed",
              styles={"overflow": "hidden"})
open("out.html", "w").write(file_html(page, INLINE))
